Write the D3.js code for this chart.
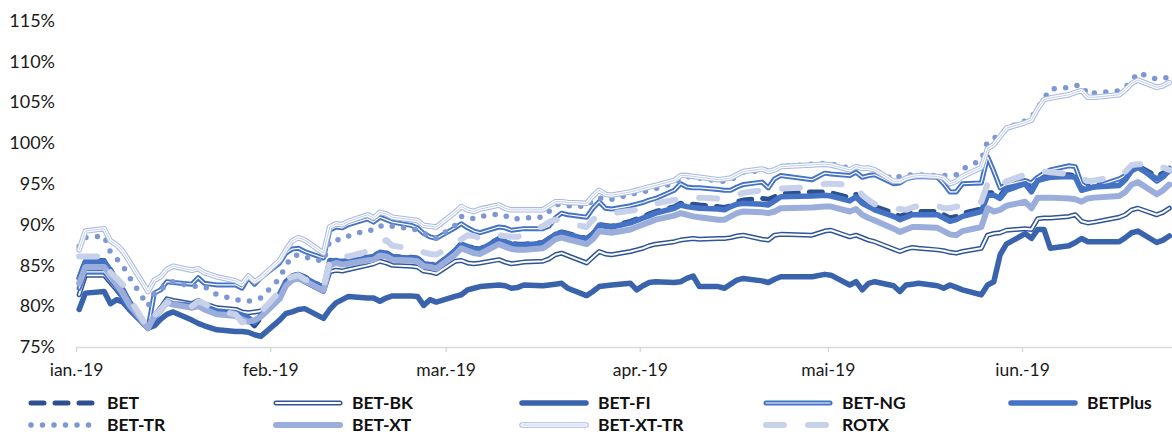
<!DOCTYPE html>
<html>
<head>
<meta charset="utf-8">
<script src="https://cdn.jsdelivr.net/npm/d3@7"></script>
<style>
  body { margin: 0; background: #ffffff; }
  svg { display: block; }
</style>
</head>
<body>
<svg id="chart" width="1172" height="436"></svg>
<script>
// Trading sessions, Jan–Jun 2019
const tradingDays = [
  "2019-01-03","2019-01-04","2019-01-07","2019-01-08","2019-01-09","2019-01-10","2019-01-11",
  "2019-01-14","2019-01-15","2019-01-16","2019-01-17","2019-01-18","2019-01-21","2019-01-22",
  "2019-01-23","2019-01-25","2019-01-28","2019-01-29","2019-01-30","2019-01-31",
  "2019-02-01","2019-02-04","2019-02-05","2019-02-06","2019-02-07","2019-02-08","2019-02-11",
  "2019-02-12","2019-02-13","2019-02-14","2019-02-15","2019-02-18","2019-02-19","2019-02-20",
  "2019-02-21","2019-02-22","2019-02-25","2019-02-26","2019-02-27","2019-02-28",
  "2019-03-01","2019-03-04","2019-03-05","2019-03-06","2019-03-07","2019-03-08","2019-03-11",
  "2019-03-12","2019-03-13","2019-03-14","2019-03-15","2019-03-18","2019-03-19","2019-03-20",
  "2019-03-21","2019-03-22","2019-03-25","2019-03-26","2019-03-27","2019-03-28","2019-03-29",
  "2019-04-01","2019-04-02","2019-04-03","2019-04-04","2019-04-05","2019-04-08","2019-04-09",
  "2019-04-10","2019-04-11","2019-04-12","2019-04-15","2019-04-16","2019-04-17","2019-04-18",
  "2019-04-19","2019-04-22","2019-04-23","2019-04-24","2019-04-25","2019-04-30",
  "2019-05-02","2019-05-03","2019-05-06","2019-05-07","2019-05-08","2019-05-09","2019-05-10",
  "2019-05-13","2019-05-14","2019-05-15","2019-05-16","2019-05-17","2019-05-20","2019-05-21",
  "2019-05-22","2019-05-23","2019-05-24","2019-05-27","2019-05-28","2019-05-29","2019-05-30",
  "2019-05-31","2019-06-03","2019-06-04","2019-06-05","2019-06-06","2019-06-07","2019-06-10",
  "2019-06-11","2019-06-12","2019-06-13","2019-06-14","2019-06-18","2019-06-19","2019-06-20",
  "2019-06-21","2019-06-24","2019-06-25","2019-06-26"
];

// Index levels, % of reference level
const bet = [
  83.5,85.6,85.6,84.5,83.1,82.0,80.5,77.3,78.7,79.7,80.7,80.4,80.2,80.5,80.1,79.4,79.1,78.7,78.3,77.6,
  78.6,81.4,83.0,83.8,83.9,83.6,82.3,85.6,85.7,85.5,85.6,86.0,86.1,86.7,86.6,86.1,86.0,85.9,85.3,85.2,
  85.0,86.8,87.7,87.4,87.1,87.0,88.3,88.0,87.7,87.6,87.6,87.8,88.3,88.9,89.1,88.9,88.3,88.9,90.0,89.9,
  89.8,90.4,90.7,91.0,91.3,91.6,92.2,92.6,92.5,92.5,92.4,92.2,92.1,92.3,92.8,93.0,93.2,93.1,93.4,93.8,
  94.0,94.0,93.9,93.3,93.7,92.9,92.6,92.2,91.4,91.0,91.3,91.6,91.6,91.6,91.2,90.8,91.0,91.4,91.9,93.9,
  93.9,93.5,94.5,95.2,94.3,95.6,95.8,96.0,96.1,96.0,94.5,94.7,94.9,95.1,95.8,96.8,97.2,95.9,96.3,96.9
];
const betBk = [
  81.4,83.8,83.8,82.9,82.0,81.0,79.8,77.3,78.8,79.8,80.9,80.7,80.3,80.7,80.3,79.8,79.6,79.3,79.2,79.3,
  79.4,81.2,82.6,83.3,83.4,83.0,81.8,84.2,84.4,84.3,84.5,85.0,85.2,85.5,85.3,85.0,84.9,84.8,84.3,84.2,
  84.0,85.5,85.6,85.3,85.2,85.3,85.7,85.4,85.2,85.3,85.4,85.5,85.8,86.3,86.5,86.2,85.3,86.0,86.7,86.4,
  86.3,86.7,86.9,87.1,87.4,87.6,87.9,88.1,88.2,88.3,88.2,88.3,88.3,88.4,88.6,88.7,88.2,88.1,88.7,88.8,
  88.7,89.2,89.3,88.5,88.7,88.4,88.1,87.9,87.0,86.7,87.0,87.2,87.1,86.9,86.8,86.6,86.5,86.7,87.1,88.7,
  88.9,89.0,89.3,89.5,89.4,90.7,90.8,90.8,91.0,91.2,90.4,90.2,90.3,90.9,91.2,91.8,92.0,91.2,91.5,92.0
];
const betFi = [
  79.6,81.6,81.8,80.3,80.8,80.5,79.6,77.3,77.6,78.4,79.0,79.3,78.3,77.9,77.6,77.1,76.9,76.9,76.8,76.5,
  76.3,78.3,79.1,79.3,79.6,79.7,78.5,79.6,80.4,80.8,81.2,81.0,81.0,80.6,81.0,81.25,81.25,81.2,80.1,80.8,
  80.5,81.2,81.4,82.0,82.2,82.4,82.6,82.5,82.2,82.3,82.6,82.5,82.6,82.7,82.8,82.2,81.3,81.8,82.4,82.5,
  82.6,82.8,82.0,82.5,82.9,83.0,82.9,83.0,83.4,83.7,82.4,82.4,82.2,82.7,83.2,83.4,83.1,82.9,83.3,83.6,
  83.6,83.9,83.8,82.6,83.0,82.0,82.8,83.0,82.5,81.8,82.6,82.7,82.8,82.5,82.2,82.6,82.3,82.0,81.4,82.6,
  83.0,86.3,87.6,88.9,88.3,89.4,89.4,87.1,87.4,87.8,88.3,87.9,87.9,87.9,88.4,89.0,89.2,87.8,88.1,88.6
];
const betNg = [
  82.2,84.2,84.2,83.2,82.3,81.0,79.8,77.3,81.6,82.0,83.0,82.9,82.7,83.5,82.8,82.6,82.6,82.2,83.5,82.7,
  83.5,85.3,86.5,87.0,87.1,86.7,85.9,89.3,89.7,89.6,90.0,90.7,90.3,90.9,90.6,90.3,89.9,89.6,88.9,88.5,
  88.3,89.6,90.1,89.6,89.2,89.0,89.7,89.6,89.3,89.4,89.5,89.5,89.8,90.8,91.4,91.2,90.9,92.0,92.8,92.0,
  91.9,92.3,92.5,92.7,93.0,93.2,94.2,95.0,94.6,94.5,94.5,94.3,94.2,94.2,94.6,94.9,95.2,94.5,95.6,96.0,
  95.5,96.3,96.2,96.0,96.4,95.8,96.0,96.1,95.0,95.1,95.6,95.8,95.9,95.8,95.0,94.0,94.0,95.0,95.1,98.3,
  96.5,94.5,94.9,95.4,95.1,95.8,96.3,96.7,97.2,97.1,95.0,94.5,94.6,95.6,96.0,96.8,97.2,95.3,95.8,96.6
];
const betPlus = [
  83.4,85.5,85.5,84.4,83.0,82.0,80.6,77.3,78.6,79.6,80.6,80.3,80.1,80.4,80.0,79.4,79.2,78.9,78.6,78.0,
  78.9,81.5,83.0,83.7,83.8,83.5,82.2,85.5,85.6,85.4,85.45,85.9,86.0,86.6,86.5,86.0,85.9,85.8,85.2,85.1,
  84.9,86.8,87.6,87.3,87.0,86.9,88.2,87.9,87.6,87.5,87.5,87.7,88.2,88.8,89.0,88.8,88.2,88.8,89.9,89.8,
  89.7,90.2,90.5,90.8,91.1,91.4,92.0,92.4,92.2,92.1,92.0,91.9,91.8,92.2,92.5,92.6,92.5,92.4,92.9,93.4,
  93.5,93.6,93.5,92.9,93.4,92.6,92.2,91.8,91.0,90.6,90.9,91.2,91.2,91.2,90.8,90.4,90.6,91.0,91.6,93.6,
  93.6,93.2,94.2,95.0,94.0,95.4,95.6,95.8,95.9,95.8,94.2,94.4,94.6,94.8,95.5,96.6,97.0,95.6,96.0,96.6
];
const betTr = [
  87.3,88.4,88.6,86.6,85.8,84.9,83.6,80.0,81.6,82.0,82.6,83.0,82.4,82.5,82.4,81.4,80.8,80.7,80.6,80.8,
  81.0,83.4,85.0,86.1,86.3,86.0,85.5,88.0,88.1,88.2,88.6,89.3,89.3,89.8,90.0,89.8,89.5,89.3,89.0,88.5,
  88.3,89.9,91.0,91.0,90.7,91.0,91.3,91.1,90.7,90.7,90.8,90.9,91.6,92.4,92.5,92.3,92.2,93.0,93.2,93.3,
  93.1,93.7,93.9,94.0,94.2,94.4,95.1,95.6,95.9,95.8,95.7,95.3,95.3,95.4,96.0,96.4,96.6,96.7,96.7,97.1,
  97.4,97.5,97.4,96.9,97.1,97.0,96.9,96.7,95.5,95.9,96.0,96.1,96.1,96.0,96.0,96.1,96.1,96.8,97.9,100.2,
  100.6,100.9,101.8,102.7,103.1,104.3,105.4,106.6,106.8,107.0,107.1,105.9,106.1,106.4,106.8,107.6,108.6,107.8,107.9,108.1
];
const betXt = [
  82.8,84.8,84.8,83.8,82.6,81.6,80.2,77.3,78.8,79.5,80.4,80.2,79.8,80.0,79.6,79.0,78.8,78.4,78.1,78.3,
  78.7,80.9,82.5,83.2,83.4,83.1,81.9,85.0,85.3,85.1,85.2,85.6,85.7,86.2,86.1,85.7,85.6,85.5,84.9,84.8,
  84.6,86.3,87.1,86.8,86.5,86.4,87.6,87.3,87.0,86.9,86.9,87.1,87.6,88.2,88.4,88.2,87.6,88.2,89.2,89.1,
  89.0,89.4,89.7,90.0,90.3,90.6,91.1,91.4,91.2,91.0,90.9,90.6,90.6,91.0,91.4,91.6,91.5,91.4,91.6,92.0,
  92.1,92.2,92.2,91.6,91.9,91.2,90.8,90.5,89.5,89.1,89.4,89.7,89.7,89.6,89.2,88.8,88.7,89.2,89.7,92.0,
  91.6,91.8,92.3,92.8,92.0,93.3,93.3,93.3,93.2,93.1,92.8,93.2,93.3,93.5,94.0,94.9,95.2,93.7,94.2,94.9
];
const betXtTr = [
  86.9,89.2,89.5,88.0,87.5,86.7,85.5,81.8,83.2,83.6,84.5,84.9,84.4,84.6,84.1,83.6,83.1,82.7,83.7,83.0,
  83.5,85.6,86.9,88.0,88.4,88.1,86.5,89.7,90.1,90.0,90.4,91.2,90.8,91.5,91.3,90.9,90.6,90.5,89.9,89.8,
  89.7,91.5,92.2,91.8,91.6,91.9,92.4,92.0,91.8,91.8,91.8,91.8,92.3,92.8,92.8,92.7,92.6,93.5,94.2,93.7,
  93.6,94.0,94.2,94.4,94.6,94.8,95.4,96.0,96.0,95.9,95.8,95.5,95.6,95.7,96.1,96.5,96.8,96.5,96.7,97.1,
  97.3,97.4,97.3,96.7,97.1,96.9,96.9,96.7,95.3,95.3,95.7,95.9,96.0,95.9,95.7,95.0,95.3,95.9,97.0,99.3,
  99.8,100.8,101.8,102.5,102.8,104.2,105.3,105.5,105.9,106.2,106.4,105.6,105.6,105.9,106.5,107.3,107.7,106.8,107.0,107.4
];
const rotx = [
  86.1,86.1,86.1,84.1,83.4,82.6,81.0,77.3,78.8,79.6,80.5,80.3,80.0,80.6,80.3,79.5,79.0,78.0,78.3,78.8,
  79.3,81.8,83.3,83.6,83.8,83.3,82.3,85.5,86.3,86.2,86.1,86.7,86.9,87.6,88.1,87.4,87.1,87.1,86.6,86.4,
  86.3,87.7,88.2,88.7,88.6,88.3,88.7,88.6,88.5,88.5,88.8,89.8,90.3,90.6,90.5,90.2,89.7,90.6,91.1,91.3,
  91.4,91.7,91.8,92.0,92.3,92.6,93.0,93.2,93.3,93.3,93.3,93.2,93.3,93.5,93.6,93.9,94.2,94.2,94.2,94.4,
  94.6,95.0,95.0,94.9,94.8,93.6,93.0,92.5,92.0,91.9,91.8,92.1,92.3,92.3,92.0,92.0,92.2,92.3,92.8,95.0,
  94.3,94.5,95.3,96.1,96.5,96.5,96.5,96.4,96.2,96.1,95.8,95.3,95.4,95.9,96.5,97.3,97.4,97.4,97.0,96.7
];

const yTickValues = [75, 80, 85, 90, 95, 100, 105, 110, 115];
const monthTickDates = ["2019-01-03","2019-02-03","2019-03-03","2019-04-03","2019-05-03","2019-06-03"];
const monthTickLabels = ["ian.-19","feb.-19","mar.-19","apr.-19","mai-19","iun.-19"];

// Drawing order (later series sit on top) and stroke layers per series
const seriesList = [
  { name: "BET",       values: bet,     layers: [{ c: "#2C4F8E", w: 5,   dash: "13 11" }] },
  { name: "BET-BK",    values: betBk,   layers: [{ c: "#2F5597", w: 5 }, { c: "#ffffff", w: 2 }] },
  { name: "BET-FI",    values: betFi,   layers: [{ c: "#3A63AD", w: 5.5 }] },
  { name: "BET-NG",    values: betNg,   layers: [{ c: "#4472C4", w: 5 }, { c: "#ffffff", w: 1.2 }] },
  { name: "BETPlus",   values: betPlus, layers: [{ c: "#4472C4", w: 5.5 }] },
  { name: "BET-TR",    values: betTr,   layers: [{ c: "#7C97D4", w: 5.5, dash: "0 11.5" }] },
  { name: "BET-XT",    values: betXt,   layers: [{ c: "#9BAEDB", w: 6 }] },
  { name: "BET-XT-TR", values: betXtTr, layers: [{ c: "#A7B8E1", w: 5.5 }, { c: "#ffffff", w: 3.4 }, { c: "#C3CFEC", w: 1 }] },
  { name: "ROTX",      values: rotx,    layers: [{ c: "#C8D1EA", w: 6,   dash: "18 24" }] }
];

const parseDay = d3.utcParse("%Y-%m-%d");
const HALF_DAY = 12 * 3600 * 1000;

const svg = d3.select("#chart");
const fontFamily = "Lato, 'Open Sans', 'Liberation Sans', sans-serif";

const x = d3.scaleUtc()
  .domain([parseDay("2019-01-03"), parseDay("2019-06-27")])
  .range([76, 1172.4]);
const y = d3.scaleLinear().domain([75, 115]).range([347, 20.5]);

// Y labels
svg.append("g").selectAll("text")
  .data(yTickValues)
  .join("text")
  .attr("x", 55)
  .attr("y", d => y(d))
  .attr("dy", "0.35em")
  .attr("text-anchor", "end")
  .attr("font-family", fontFamily)
  .attr("font-size", 18)
  .attr("fill", "#1a1a1a")
  .text(d => d + "%");

// X axis
const xAxis = d3.axisBottom(x)
  .tickValues(monthTickDates.map(parseDay))
  .tickFormat((d, i) => monthTickLabels[i])
  .tickSizeInner(5)
  .tickSizeOuter(0)
  .tickPadding(12);

const gx = svg.append("g").attr("transform", `translate(0,${y(75)})`).call(xAxis);
gx.select(".domain").attr("stroke", "#d9d9d9").attr("stroke-width", 1.5);
gx.selectAll(".tick line").attr("stroke", "#d9d9d9").attr("stroke-width", 1.5);
gx.selectAll(".tick text")
  .attr("font-family", fontFamily)
  .attr("font-size", 17.5)
  .attr("fill", "#1a1a1a");

// Lines
const plot = svg.append("g");
seriesList.forEach(s => {
  const pts = tradingDays.map((d, i) => ({ t: new Date(+parseDay(d) + HALF_DAY), v: s.values[i] }));
  const line = d3.line().x(p => x(p.t)).y(p => y(p.v));
  const g = plot.append("g").attr("class", "series");
  s.layers.forEach(l => {
    g.append("path")
      .attr("d", line(pts))
      .attr("fill", "none")
      .attr("stroke", l.c)
      .attr("stroke-width", l.w)
      .attr("stroke-linejoin", "round")
      .attr("stroke-linecap", "round")
      .attr("stroke-dasharray", l.dash || null);
  });
});

// Legend: two rows of five columns
const legend = svg.append("g");
const colX = [28, 273, 519, 763, 1008];
const rowY = [403, 425];
seriesList.forEach((s, i) => {
  const cx = colX[i % 5];
  const cy = rowY[Math.floor(i / 5)];
  const item = legend.append("g");
  s.layers.forEach(l => {
    item.append("line")
      .attr("x1", cx + 3).attr("x2", cx + 67)
      .attr("y1", cy).attr("y2", cy)
      .attr("stroke", l.c)
      .attr("stroke-width", l.w)
      .attr("stroke-linecap", "round")
      .attr("stroke-dasharray", l.dash || null);
  });
  item.append("text")
    .attr("x", cx + 79)
    .attr("y", cy)
    .attr("dy", "0.35em")
    .attr("font-family", fontFamily)
    .attr("font-size", 17.5)
    .attr("font-weight", "bold")
    .attr("fill", "#111111")
    .text(s.name);
});
</script>
</body>
</html>
